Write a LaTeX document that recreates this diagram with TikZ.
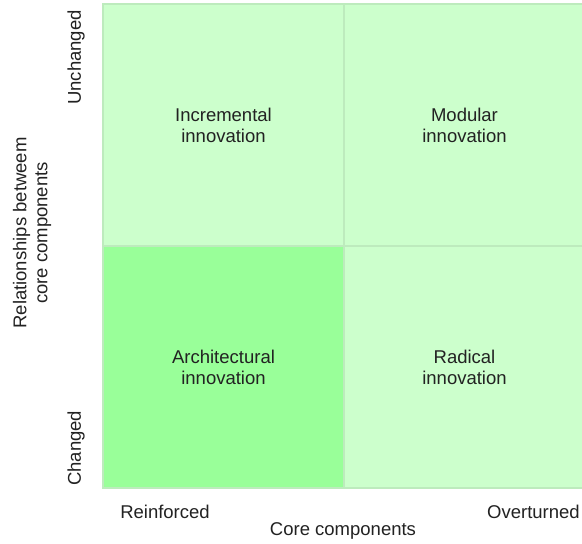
\documentclass[tikz,border=0pt]{standalone}
\usepackage{fontspec}
\setmainfont{Liberation Sans}
\begin{document}
\begin{tikzpicture}[x=1pt,y=-1pt,
  cell/.style={draw=cellline, line width=1.6pt, minimum width=241pt, minimum height=242pt,
    inner sep=0pt, align=center, text=txt, font=\fontsize{18.5}{21}\selectfont},
  lbl/.style={inner sep=0pt, text=txt, font=\fontsize{18.5}{21}\selectfont, align=center}]
  \definecolor{lightcell}{HTML}{CCFFCC}
  \definecolor{darkcell}{HTML}{99FF99}
  \definecolor{cellline}{HTML}{BDEBBD}
  \definecolor{txt}{HTML}{222222}
  \useasboundingbox[fill=white] (0,0) rectangle (582,544);
  % the four quadrants
  \node[cell, fill=lightcell] (inc) at (223.5,125) {Incremental\\innovation};
  \node[cell, fill=lightcell] (mod) at (464.5,125) {Modular\\innovation};
  \node[cell, fill=darkcell]  (arc) at (223.5,367) {Architectural\\innovation};
  \node[cell, fill=lightcell] (rad) at (464.5,367) {Radical\\innovation};
  % vertical axis labels
  \node[lbl, rotate=90, anchor=east] (unch) at (76,10) {Unchanged};
  \node[lbl, rotate=90, anchor=west] (chg) at (76,486) {Changed};
  \node[lbl, rotate=90] (rel) at (32,233) {Relationships betweem\\core components};
  % horizontal axis labels
  \node[lbl] (reinf) at (165,512) {Reinforced};
  \node[lbl] (over) at (533.5,512) {Overturned};
  \node[lbl] (core) at (343,531) {Core components};
\end{tikzpicture}
\end{document}
